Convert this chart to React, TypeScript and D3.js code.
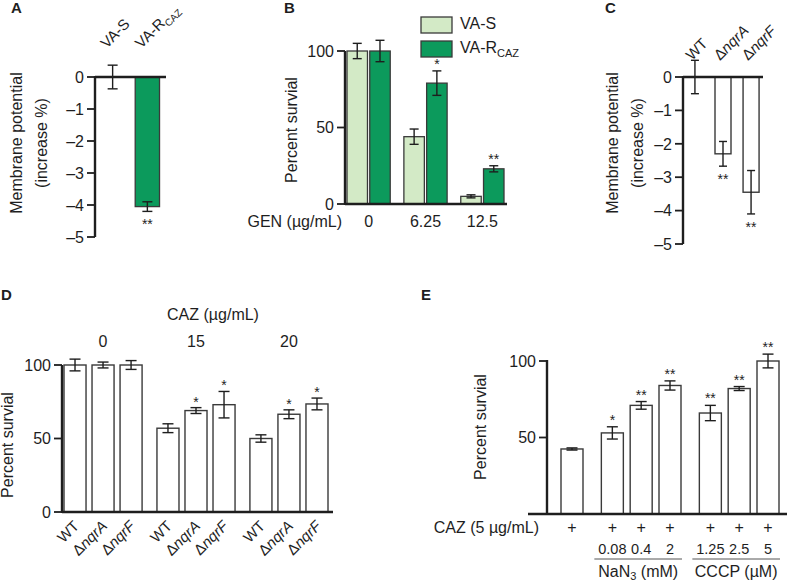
import React from "react";
import * as d3 from "d3";

const FONT = "'Liberation Sans', Arial, Helvetica, sans-serif";
const LIGHT = "#d3eac6";
const DARK = "#0c9a5c";
const INK = "#1e1e1e";
const EDGE = "#3a3a3a";

// A: membrane potential, VA-S vs VA-R(CAZ)
const aStrains = ["VA-S", "VA-R_CAZ"];
const aValues = [0, -4.05];
const aErrors = [0.37, 0.15];
const aStars = ["", "**"];
const potentialTicks = [0, -1, -2, -3, -4, -5];

// B: survival under gentamicin
const bDoses = ["0", "6.25", "12.5"];
const bSeries = ["VA-S", "VA-R_CAZ"];
const bSensitive = [100, 44, 5];
const bSensitiveErr = [5, 5, 1];
const bResistant = [100, 79, 23];
const bResistantErr = [7, 8, 2];
const bResistantStars = ["", "*", "**"];
const survivalTicks = [0, 50, 100];

// C: membrane potential of mutants
const cStrains = ["WT", "ΔnqrA", "ΔnqrF"];
const cValues = [0, -2.3, -3.45];
const cErrors = [0.5, 0.37, 0.65];
const cStars = ["", "**", "**"];

// D: survival under ceftazidime
const dDoses = ["0", "15", "20"];
const dStrains = ["WT", "ΔnqrA", "ΔnqrF"];
const dWT = [100, 57, 50];
const dWTErr = [4, 3, 2.5];
const dNqrA = [100, 69, 66.5];
const dNqrAErr = [2, 2, 3];
const dNqrF = [100, 73, 73.5];
const dNqrFErr = [3, 9, 4];
const dNqrAStars = ["", "*", "*"];
const dNqrFStars = ["", "*", "*"];

// E: survival with inhibitors
const eValues = [42.5, 53, 71, 84, 66, 82, 100];
const eErrors = [0.7, 4, 2.5, 3, 5, 1.3, 4.5];
const eStars = ["", "*", "**", "**", "**", "**", "**"];
const eCaz = ["+", "+", "+", "+", "+", "+", "+"];
const eConc = ["", "0.08", "0.4", "2", "1.25", "2.5", "5"];
const eGroupOf = [0, 1, 1, 1, 2, 2, 2];
const eGroupNames = ["", "NaN_3_ (mM)", "CCCP (µM)"];
const eTicks = [50, 100];

// "A_sub_rest" -> subscript, "Δname" -> italic gene name
function Rich({ text, sub = 10, shift = 4 }: { text: string; sub?: number; shift?: number }) {
  if (text.startsWith("Δ")) {
    return (
      <>
        Δ<tspan fontStyle="italic">{text.slice(1)}</tspan>
      </>
    );
  }
  const parts = text.split("_");
  if (parts.length === 1) return <>{text}</>;
  return (
    <>
      {parts[0]}
      <tspan dy={shift} fontSize={sub}>{parts[1]}</tspan>
      {parts[2] !== undefined && <tspan dy={-shift}>{parts[2]}</tspan>}
    </>
  );
}

function ErrorBar({ x, y1, y2, w }: { x: number; y1: number; y2: number; w: number }) {
  return (
    <g stroke={INK} strokeWidth={1.4}>
      <line x1={x} x2={x} y1={y1} y2={y2} />
      <line x1={x - w / 2} x2={x + w / 2} y1={y1} y2={y1} />
      <line x1={x - w / 2} x2={x + w / 2} y1={y2} y2={y2} />
    </g>
  );
}

function YAxis({ x, y, ticks, top, bottom, fmt }: any) {
  return (
    <g>
      <line x1={x} x2={x} y1={top} y2={bottom} stroke={INK} strokeWidth={2.4} />
      {ticks.map((t: number) => (
        <g key={t}>
          <line x1={x - 8} x2={x} y1={y(t)} y2={y(t)} stroke={INK} strokeWidth={1.8} />
          <text x={x - 11} y={y(t)} dy="0.36em" textAnchor="end" fontSize={16}>
            {fmt ? fmt(t) : t}
          </text>
        </g>
      ))}
    </g>
  );
}

function YTitle({ x, y, lines }: { x: number; y: number; lines: string[] }) {
  return (
    <text transform={`translate(${x},${y}) rotate(-90)`} textAnchor="middle" fontSize={16}>
      {lines.map((l, i) => (
        <tspan key={i} x={0} dy={i === 0 ? 0 : 25}>{l}</tspan>
      ))}
    </text>
  );
}

const minus = (t: number) => (t < 0 ? "–" + Math.abs(t) : String(t));

function PanelA() {
  const x = d3.scaleBand().domain(aStrains).range([97, 163]).paddingInner(0.3).paddingOuter(0.1);
  const y = d3.scaleLinear().domain([0, -5]).range([77, 237]);
  const bw = x.bandwidth();
  return (
    <g>
      <text x={11} y={13} fontSize={15} fontWeight="bold">A</text>
      <YTitle x={22} y={143} lines={["Membrane potential", "(increase %)"]} />
      {aStrains.map((s, i) => {
        const cx = (x(s) as number) + bw / 2;
        return (
          <g key={s}>
            {aValues[i] < 0 && (
              <rect x={x(s)} width={bw} y={y(0)} height={y(aValues[i]) - y(0)} fill={DARK} stroke={EDGE} strokeWidth={1.3} />
            )}
            <ErrorBar x={cx} y1={y(aValues[i] + aErrors[i])} y2={y(aValues[i] - aErrors[i])} w={10} />
            <text x={cx} y={y(aValues[i] - aErrors[i]) + 18} textAnchor="middle" fontSize={14}>{aStars[i]}</text>
            <text transform={`translate(${cx - 6},${y(0) - 28}) rotate(-45)`} fontSize={15}>
              <Rich text={s} />
            </text>
          </g>
        );
      })}
      <line x1={95} x2={166} y1={y(0)} y2={y(0)} stroke={INK} strokeWidth={2.4} />
      <YAxis x={95} y={y} ticks={potentialTicks} top={y(0) - 1} bottom={y(-5)} fmt={minus} />
    </g>
  );
}

function PanelB() {
  const x = d3.scaleBand().domain(bDoses).range([347, 504]).paddingInner(0.24);
  const sub = d3.scaleBand().domain(bSeries).range([0, x.bandwidth()]).paddingInner(0.1);
  const y = d3.scaleLinear().domain([0, 100]).range([204, 51]);
  const bw = sub.bandwidth();
  const series = [
    { name: bSeries[0], values: bSensitive, errs: bSensitiveErr, fill: LIGHT, stars: bDoses.map(() => "") },
    { name: bSeries[1], values: bResistant, errs: bResistantErr, fill: DARK, stars: bResistantStars },
  ];
  return (
    <g>
      <text x={284} y={13} fontSize={15} fontWeight="bold">B</text>
      <YTitle x={297} y={130} lines={["Percent survial"]} />
      {bDoses.map((d, i) => (
        <g key={d}>
          {series.map((s) => {
            const bx = (x(d) as number) + (sub(s.name) as number);
            const cx = bx + bw / 2;
            const v = s.values[i];
            return (
              <g key={s.name}>
                <rect x={bx} width={bw} y={y(v)} height={y(0) - y(v)} fill={s.fill} stroke={EDGE} strokeWidth={1.3} />
                <ErrorBar x={cx} y1={y(v + s.errs[i])} y2={y(v - s.errs[i])} w={9} />
                <text x={cx} y={y(v + s.errs[i]) - 2} textAnchor="middle" fontSize={14}>{s.stars[i]}</text>
              </g>
            );
          })}
          <text x={(x(d) as number) + x.bandwidth() / 2} y={227} textAnchor="middle" fontSize={16}>{d}</text>
        </g>
      ))}
      <text x={342} y={227} textAnchor="end" fontSize={16}>GEN (µg/mL)</text>
      <line x1={345} x2={507} y1={y(0)} y2={y(0)} stroke={INK} strokeWidth={2.4} />
      <YAxis x={345} y={y} ticks={survivalTicks} top={y(100)} bottom={y(0) + 1} />
      {series.map((s, i) => (
        <g key={s.name}>
          <rect x={421} y={17 + i * 24} width={31} height={16} fill={s.fill} stroke={EDGE} strokeWidth={1.3} />
          <text x={460} y={29 + i * 24} fontSize={16}><Rich text={s.name} sub={11} /></text>
        </g>
      ))}
    </g>
  );
}

function PanelC() {
  const x = d3.scaleBand().domain(cStrains).range([683, 763]).paddingInner(0.43).paddingOuter(0.14);
  const y = d3.scaleLinear().domain([0, -5]).range([77, 244]);
  const bw = x.bandwidth();
  return (
    <g>
      <text x={605} y={13} fontSize={15} fontWeight="bold">C</text>
      <YTitle x={618} y={143} lines={["Membrane potential", "(increase %)"]} />
      {cStrains.map((s, i) => {
        const cx = (x(s) as number) + bw / 2;
        return (
          <g key={s}>
            {cValues[i] < 0 && (
              <rect x={x(s)} width={bw} y={y(0)} height={y(cValues[i]) - y(0)} fill="#fff" stroke={EDGE} strokeWidth={1.4} />
            )}
            <ErrorBar x={cx} y1={y(cValues[i] + cErrors[i])} y2={y(cValues[i] - cErrors[i])} w={8} />
            <text x={cx} y={y(cValues[i] - cErrors[i]) + 18} textAnchor="middle" fontSize={14}>{cStars[i]}</text>
            <text transform={`translate(${cx - 3},${y(0) - 16}) rotate(-45)`} fontSize={15}>
              <Rich text={s} />
            </text>
          </g>
        );
      })}
      <line x1={683} x2={763} y1={y(0)} y2={y(0)} stroke={INK} strokeWidth={2.4} />
      <YAxis x={683} y={y} ticks={potentialTicks} top={y(0) - 1} bottom={y(-5)} fmt={minus} />
    </g>
  );
}

function PanelD() {
  const x = d3.scaleBand().domain(dDoses).range([64, 328]).paddingInner(0.16);
  const sub = d3.scaleBand().domain(dStrains).range([0, x.bandwidth()]).paddingInner(0.214);
  const y = d3.scaleLinear().domain([0, 100]).range([512, 365]);
  const bw = sub.bandwidth();
  const series = [
    { values: dWT, errs: dWTErr, stars: dDoses.map(() => "") },
    { values: dNqrA, errs: dNqrAErr, stars: dNqrAStars },
    { values: dNqrF, errs: dNqrFErr, stars: dNqrFStars },
  ];
  return (
    <g>
      <text x={1} y={300} fontSize={15} fontWeight="bold">D</text>
      <YTitle x={13} y={445} lines={["Percent survial"]} />
      <text x={213} y={320} textAnchor="middle" fontSize={16}>CAZ (µg/mL)</text>
      {dDoses.map((d, i) => (
        <g key={d}>
          <text x={(x(d) as number) + x.bandwidth() / 2} y={347} textAnchor="middle" fontSize={16}>{d}</text>
          {dStrains.map((s, j) => {
            const bx = (x(d) as number) + (sub(s) as number);
            const cx = bx + bw / 2;
            const v = series[j].values[i];
            const e = series[j].errs[i];
            return (
              <g key={s}>
                <rect x={bx} width={bw} y={y(v)} height={y(0) - y(v)} fill="#fff" stroke={EDGE} strokeWidth={1.4} />
                <ErrorBar x={cx} y1={y(v + e)} y2={y(v - e)} w={11} />
                <text x={cx} y={y(v + e) - 1} textAnchor="middle" fontSize={14}>{series[j].stars[i]}</text>
                <text transform={`translate(${cx + 5},${y(0) + 15}) rotate(-45)`} textAnchor="end" fontSize={15}>
                  <Rich text={s} />
                </text>
              </g>
            );
          })}
        </g>
      ))}
      <line x1={62} x2={333} y1={y(0)} y2={y(0)} stroke={INK} strokeWidth={2.4} />
      <YAxis x={62} y={y} ticks={survivalTicks} top={y(100)} bottom={y(0) + 1} />
    </g>
  );
}

function PanelE() {
  const pos = eValues.map((_, i) => i + eGroupOf[i] * 0.4);
  const x = d3.scaleLinear().domain([0, 6.8]).range([572, 768]);
  const y = d3.scaleLinear().domain([0, 100]).range([514, 361]);
  const bw = 22;
  const groups = [1, 2].map((g) => {
    const idx = eGroupOf.map((v, i) => (v === g ? i : -1)).filter((i) => i >= 0);
    return { name: eGroupNames[g], x0: x(pos[idx[0]]) - 18, x1: x(pos[idx[idx.length - 1]]) + 12 };
  });
  return (
    <g>
      <text x={421} y={300} fontSize={15} fontWeight="bold">E</text>
      <YTitle x={486} y={427} lines={["Percent survial"]} />
      {eValues.map((v, i) => {
        const cx = x(pos[i]);
        return (
          <g key={i}>
            <rect x={cx - bw / 2} width={bw} y={y(v)} height={y(0) - y(v)} fill="#fff" stroke={EDGE} strokeWidth={1.4} />
            <ErrorBar x={cx} y1={y(v + eErrors[i])} y2={y(v - eErrors[i])} w={11} />
            <text x={cx} y={y(v + eErrors[i]) - 2} textAnchor="middle" fontSize={14}>{eStars[i]}</text>
            <text x={cx} y={533} textAnchor="middle" fontSize={16}>{eCaz[i]}</text>
            <text x={cx} y={554} textAnchor="middle" fontSize={14.5}>{eConc[i]}</text>
          </g>
        );
      })}
      <text x={539} y={533} textAnchor="end" fontSize={16}>CAZ (5 µg/mL)</text>
      {groups.map((g) => (
        <g key={g.name}>
          <line x1={g.x0} x2={g.x1} y1={559} y2={559} stroke="#555" strokeWidth={1} />
          <text x={(g.x0 + g.x1) / 2} y={577} textAnchor="middle" fontSize={16}>
            <Rich text={g.name} sub={11} shift={3} />
          </text>
        </g>
      ))}
      <line x1={528} x2={787} y1={y(0)} y2={y(0)} stroke={INK} strokeWidth={2.4} />
      <YAxis x={547} y={y} ticks={eTicks} top={y(100) - 1} bottom={y(0)} />
    </g>
  );
}

export default function App() {
  return (
    <svg
      width={794}
      height={585}
      style={{ position: "absolute", left: 0, top: 0, background: "#fff" }}
      fontFamily={FONT}
      fill={INK}
    >
      <PanelA />
      <PanelB />
      <PanelC />
      <PanelD />
      <PanelE />
    </svg>
  );
}
